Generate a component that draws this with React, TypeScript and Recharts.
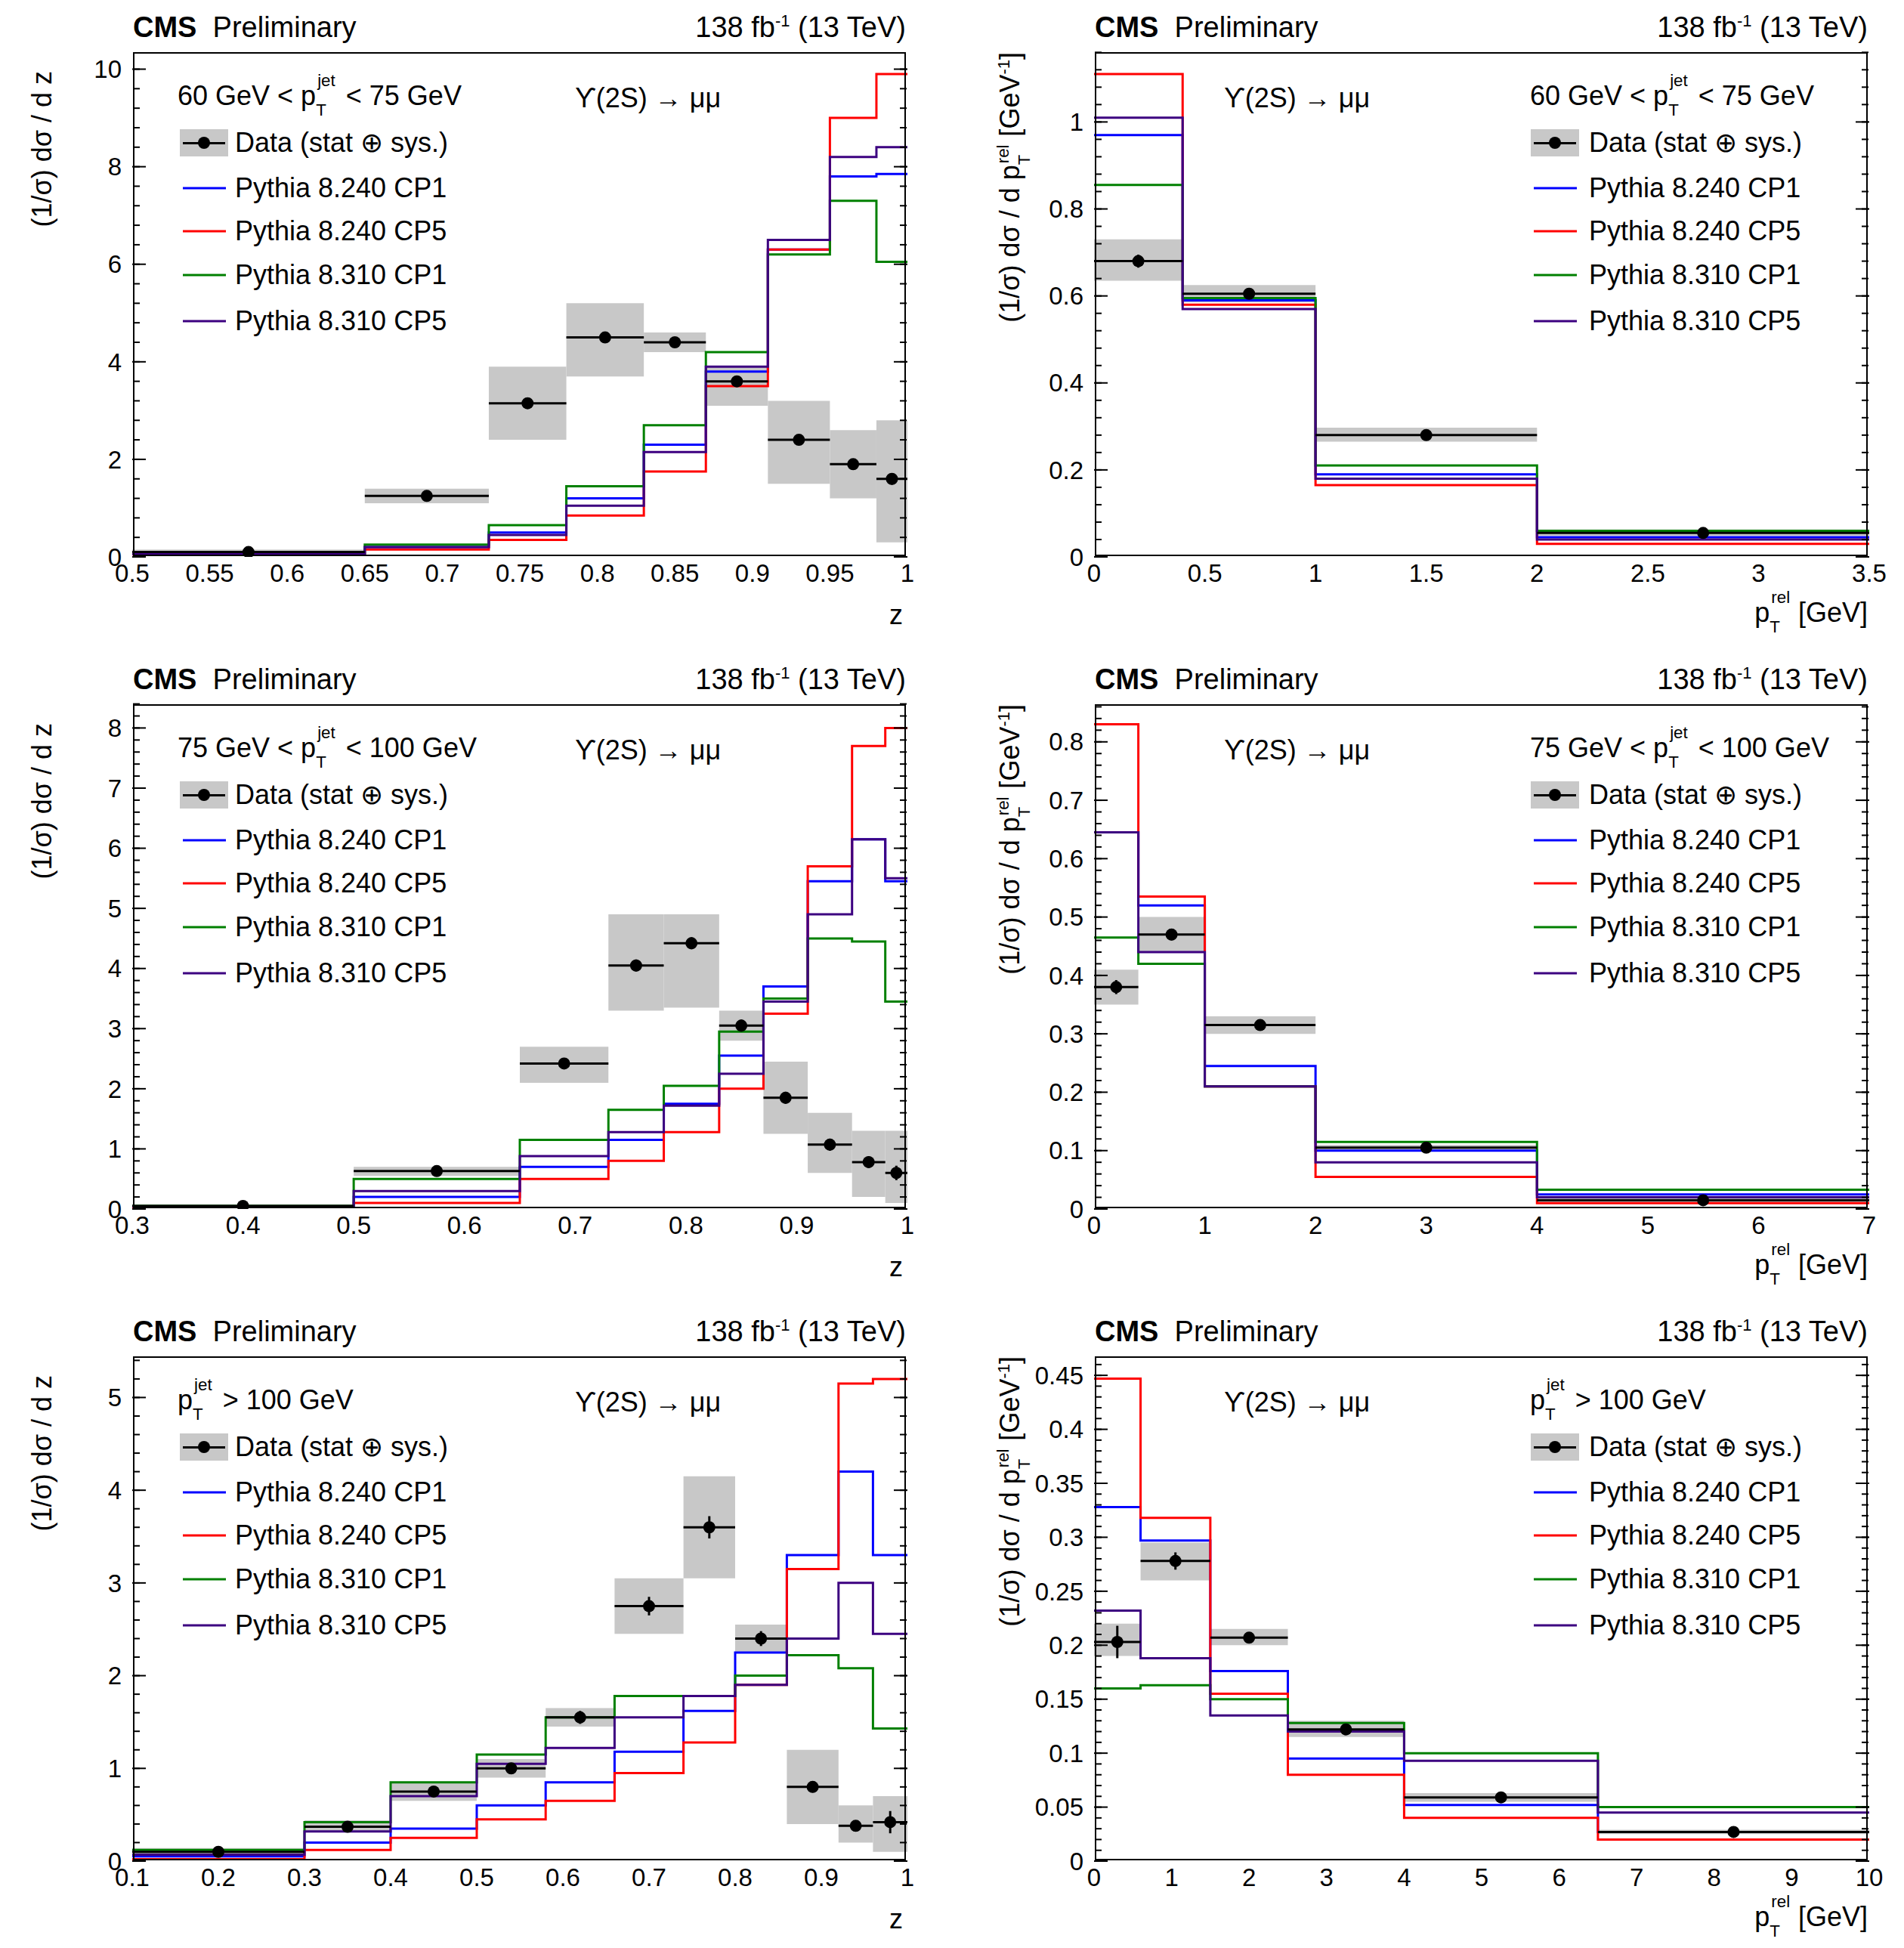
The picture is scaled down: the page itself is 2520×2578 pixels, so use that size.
import React from "react";
import { ComposedChart, Line, Scatter, ErrorBar, ReferenceArea, XAxis, YAxis } from "recharts";

// ---- panel 1: z, 60 < pT jet < 75 ----
const Z1_EDGES = [0.5, 0.65, 0.73, 0.78, 0.83, 0.87, 0.91, 0.95, 0.98, 1];
const Z1_CP1_240 = [0.07, 0.2, 0.5, 1.2, 2.3, 3.8, 6.3, 7.8, 7.85];
const Z1_CP5_240 = [0.05, 0.15, 0.35, 0.85, 1.75, 3.5, 6.3, 9.0, 9.9];
const Z1_CP1_310 = [0.08, 0.25, 0.65, 1.45, 2.7, 4.2, 6.2, 7.3, 6.05];
const Z1_CP5_310 = [0.06, 0.2, 0.45, 1.05, 2.15, 3.9, 6.5, 8.2, 8.4];
const Z1_DATA = [0.1, 1.25, 3.15, 4.5, 4.4, 3.6, 2.4, 1.9, 1.6];
const Z1_LO = [0.05, 1.1, 2.4, 3.7, 4.2, 3.1, 1.5, 1.2, 0.3];
const Z1_HI = [0.15, 1.4, 3.9, 5.2, 4.6, 3.9, 3.2, 2.6, 2.8];
const Z1_STAT = [0.02, 0.06, 0.08, 0.08, 0.08, 0.08, 0.08, 0.1, 0.12];

// ---- panel 2: pTrel, 60 < pT jet < 75 ----
const P1_EDGES = [0, 0.4, 1, 2, 3.5];
const P1_CP1_240 = [0.97, 0.59, 0.19, 0.045];
const P1_CP5_240 = [1.11, 0.58, 0.165, 0.03];
const P1_CP1_310 = [0.855, 0.595, 0.21, 0.06];
const P1_CP5_310 = [1.01, 0.57, 0.18, 0.04];
const P1_DATA = [0.68, 0.605, 0.28, 0.055];
const P1_LO = [0.635, 0.585, 0.265, 0.048];
const P1_HI = [0.73, 0.625, 0.297, 0.063];
const P1_STAT = [0.015, 0.008, 0.005, 0.003];

// ---- panel 3: z, 75 < pT jet < 100 ----
const Z2_EDGES = [0.3, 0.5, 0.65, 0.73, 0.78, 0.83, 0.87, 0.91, 0.95, 0.98, 1];
const Z2_CP1_240 = [0.04, 0.2, 0.7, 1.15, 1.75, 2.55, 3.7, 5.45, 6.15, 5.45];
const Z2_CP5_240 = [0.03, 0.1, 0.5, 0.8, 1.28, 2.0, 3.25, 5.7, 7.7, 8.0];
const Z2_CP1_310 = [0.05, 0.5, 1.15, 1.65, 2.05, 2.95, 3.5, 4.5, 4.45, 3.45];
const Z2_CP5_310 = [0.04, 0.3, 0.88, 1.28, 1.72, 2.25, 3.45, 4.9, 6.15, 5.5];
const Z2_DATA = [0.05, 0.63, 2.42, 4.05, 4.42, 3.05, 1.85, 1.07, 0.78, 0.6];
const Z2_LO = [0.02, 0.55, 2.1, 3.3, 3.35, 2.8, 1.25, 0.6, 0.2, 0.1];
const Z2_HI = [0.08, 0.7, 2.7, 4.9, 4.9, 3.3, 2.45, 1.6, 1.3, 1.3];
const Z2_STAT = [0.02, 0.04, 0.08, 0.1, 0.1, 0.1, 0.1, 0.1, 0.1, 0.12];

// ---- panel 4: pTrel, 75 < pT jet < 100 ----
const P2_EDGES = [0, 0.4, 1, 2, 4, 7];
const P2_CP1_240 = [0.645, 0.52, 0.245, 0.1, 0.025];
const P2_CP5_240 = [0.83, 0.535, 0.21, 0.055, 0.01];
const P2_CP1_310 = [0.465, 0.42, 0.21, 0.115, 0.033];
const P2_CP5_310 = [0.645, 0.44, 0.21, 0.08, 0.02];
const P2_DATA = [0.38, 0.47, 0.315, 0.105, 0.015];
const P2_LO = [0.35, 0.44, 0.3, 0.1, 0.012];
const P2_HI = [0.41, 0.5, 0.33, 0.11, 0.018];
const P2_STAT = [0.012, 0.01, 0.005, 0.002, 0.001];

// ---- panel 5: z, pT jet > 100 ----
const Z3_EDGES = [0.1, 0.3, 0.4, 0.5, 0.58, 0.66, 0.74, 0.8, 0.86, 0.92, 0.96, 1];
const Z3_CP1_240 = [0.05, 0.2, 0.35, 0.6, 0.85, 1.18, 1.62, 2.25, 3.3, 4.2, 3.3];
const Z3_CP5_240 = [0.02, 0.12, 0.25, 0.45, 0.65, 0.95, 1.28, 1.9, 3.15, 5.15, 5.2];
const Z3_CP1_310 = [0.12, 0.42, 0.85, 1.15, 1.55, 1.78, 1.78, 2.0, 2.22, 2.08, 1.43];
const Z3_CP5_310 = [0.07, 0.32, 0.7, 1.05, 1.22, 1.55, 1.78, 1.9, 2.4, 3.0, 2.45];
const Z3_DATA = [0.1, 0.37, 0.75, 1.0, 1.55, 2.75, 3.6, 2.4, 0.8, 0.38, 0.42];
const Z3_LO = [0.06, 0.32, 0.65, 0.9, 1.45, 2.45, 3.05, 2.25, 0.4, 0.2, 0.1];
const Z3_HI = [0.14, 0.44, 0.85, 1.1, 1.65, 3.05, 4.15, 2.55, 1.2, 0.6, 0.7];
const Z3_STAT = [0.02, 0.04, 0.05, 0.06, 0.07, 0.1, 0.12, 0.08, 0.06, 0.06, 0.12];

// ---- panel 6: pTrel, pT jet > 100 ----
const P3_EDGES = [0, 0.6, 1.5, 2.5, 4, 6.5, 10];
const P3_CP1_240 = [0.328, 0.297, 0.176, 0.095, 0.052, 0.027];
const P3_CP5_240 = [0.447, 0.318, 0.155, 0.08, 0.04, 0.02];
const P3_CP1_310 = [0.16, 0.163, 0.15, 0.128, 0.1, 0.05];
const P3_CP5_310 = [0.232, 0.188, 0.135, 0.12, 0.093, 0.045];
const P3_DATA = [0.203, 0.278, 0.207, 0.122, 0.059, 0.027];
const P3_LO = [0.19, 0.26, 0.2, 0.115, 0.055, 0.025];
const P3_HI = [0.22, 0.295, 0.215, 0.13, 0.063, 0.029];
const P3_STAT = [0.015, 0.008, 0.004, 0.004, 0.002, 0.001];

const LEGEND_NAMES = ["Pythia 8.240 CP1", "Pythia 8.240 CP5", "Pythia 8.310 CP1", "Pythia 8.310 CP5"];
const COLORS = ["#0000ff", "#ff0000", "#008000", "#3c0080"];
const GREY = "#c8c8c8";
const FONT = "'Liberation Sans', Arial, sans-serif";

const steps = (edges: number[], vals: number[]) =>
  vals.map((v, i) => ({ x: edges[i], y: v })).concat([{ x: edges[edges.length - 1], y: vals[vals.length - 1] }]);

const points = (edges: number[], vals: number[], stat: number[]) =>
  vals.map((v, i) => ({ x: (edges[i] + edges[i + 1]) / 2, y: v, ex: (edges[i + 1] - edges[i]) / 2, ey: stat[i] }));

const range = (a: number, b: number, s: number) => {
  const out: number[] = [];
  for (let i = 0; a + i * s <= b + 1e-9; i++) out.push(parseFloat((a + i * s).toFixed(4)));
  return out;
};
const fmt = (v: number) => String(parseFloat(v.toFixed(3)));

type Panel = {
  left: number; top: number; xd: [number, number]; yd: [number, number];
  xMaj: number; xMin: number; yMaj: number; yMin: number;
  edges: number[]; mc: number[][]; data: number[]; lo: number[]; hi: number[]; stat: number[];
  header: React.ReactNode; isZ: boolean;
};

const PW = 1023, PH = 667, ML = 150, MR = 50, MT = 20, MB = 60;
const COLX = [176, 1449];
const ROWY = [69, 932, 1795];

const ptjet = (
  <span>p<span style={{ position: "relative" }}><sup style={{ fontSize: "0.62em", position: "absolute", left: 2, top: -10 }}>jet</sup><sub style={{ fontSize: "0.62em", position: "relative", top: 6 }}>T</sub></span><span style={{ display: "inline-block", width: 26 }} /></span>
);
const ptrel = (
  <span>p<span style={{ position: "relative" }}><sup style={{ fontSize: "0.62em", position: "absolute", left: 2, top: -10 }}>rel</sup><sub style={{ fontSize: "0.62em", position: "relative", top: 6 }}>T</sub></span><span style={{ display: "inline-block", width: 24 }} /></span>
);

const HEADERS = [
  <span>60 GeV &lt; {ptjet}&lt; 75 GeV</span>,
  <span>75 GeV &lt; {ptjet}&lt; 100 GeV</span>,
  <span>{ptjet}&gt; 100 GeV</span>,
];

const PANELS: Panel[] = [
  { left: COLX[0], top: ROWY[0], xd: [0.5, 1], yd: [0, 10.38], xMaj: 0.05, xMin: 0.01, yMaj: 2, yMin: 0.4, edges: Z1_EDGES, mc: [Z1_CP1_240, Z1_CP5_240, Z1_CP1_310, Z1_CP5_310], data: Z1_DATA, lo: Z1_LO, hi: Z1_HI, stat: Z1_STAT, header: HEADERS[0], isZ: true },
  { left: COLX[1], top: ROWY[0], xd: [0, 3.5], yd: [0, 1.164], xMaj: 0.5, xMin: 0.1, yMaj: 0.2, yMin: 0.04, edges: P1_EDGES, mc: [P1_CP1_240, P1_CP5_240, P1_CP1_310, P1_CP5_310], data: P1_DATA, lo: P1_LO, hi: P1_HI, stat: P1_STAT, header: HEADERS[0], isZ: false },
  { left: COLX[0], top: ROWY[1], xd: [0.3, 1], yd: [0, 8.42], xMaj: 0.1, xMin: 0.02, yMaj: 1, yMin: 0.2, edges: Z2_EDGES, mc: [Z2_CP1_240, Z2_CP5_240, Z2_CP1_310, Z2_CP5_310], data: Z2_DATA, lo: Z2_LO, hi: Z2_HI, stat: Z2_STAT, header: HEADERS[1], isZ: true },
  { left: COLX[1], top: ROWY[1], xd: [0, 7], yd: [0, 0.867], xMaj: 1, xMin: 0.2, yMaj: 0.1, yMin: 0.02, edges: P2_EDGES, mc: [P2_CP1_240, P2_CP5_240, P2_CP1_310, P2_CP5_310], data: P2_DATA, lo: P2_LO, hi: P2_HI, stat: P2_STAT, header: HEADERS[1], isZ: false },
  { left: COLX[0], top: ROWY[2], xd: [0.1, 1], yd: [0, 5.46], xMaj: 0.1, xMin: 0.02, yMaj: 1, yMin: 0.2, edges: Z3_EDGES, mc: [Z3_CP1_240, Z3_CP5_240, Z3_CP1_310, Z3_CP5_310], data: Z3_DATA, lo: Z3_LO, hi: Z3_HI, stat: Z3_STAT, header: HEADERS[2], isZ: true },
  { left: COLX[1], top: ROWY[2], xd: [0, 10], yd: [0, 0.469], xMaj: 1, xMin: 0.2, yMaj: 0.05, yMin: 0.01, edges: P3_EDGES, mc: [P3_CP1_240, P3_CP5_240, P3_CP1_310, P3_CP5_310], data: P3_DATA, lo: P3_LO, hi: P3_HI, stat: P3_STAT, header: HEADERS[2], isZ: false },
];

const AX = { stroke: "#000", strokeWidth: 2 };
const NoLabel = () => <g />;

function Chart({ p }: { p: Panel }) {
  const xMaj = range(p.xd[0], p.xd[1], p.xMaj);
  const xMin = range(p.xd[0], p.xd[1], p.xMin);
  const yMaj = range(p.yd[0], p.yd[1], p.yMaj);
  const yMin = range(p.yd[0], p.yd[1], p.yMin);
  const pts = points(p.edges, p.data, p.stat);
  const tickAx = (ticks: number[], size: number) => ({
    type: "number" as const, ticks, tick: NoLabel, tickSize: size, mirror: true,
    axisLine: false, tickLine: AX, allowDataOverflow: true, interval: 0 as const,
  });
  return (
    <div style={{ position: "absolute", left: p.left - ML, top: p.top - MT }}>
      <ComposedChart width={PW + ML + MR} height={PH + MT + MB} margin={{ top: MT - 2, left: ML - 2, right: MR - 2, bottom: MB - 2 }}>
        <XAxis xAxisId="b1" domain={p.xd} height={1} {...tickAx(xMaj, 18)} />
        <XAxis xAxisId="b2" domain={p.xd} height={1} {...tickAx(xMin, 9)} />
        <XAxis xAxisId="m" dataKey="x" type="number" domain={p.xd} ticks={xMaj} interval={0} height={1} allowDataOverflow
          axisLine={false} tickLine={false} tickMargin={4} tickFormatter={fmt}
          tick={{ fill: "#000", fontSize: 33, fontFamily: FONT, dy: 0 }} />
        <XAxis xAxisId="t1" orientation="top" domain={p.xd} height={1} {...tickAx(xMaj, 18)} />
        <XAxis xAxisId="t2" orientation="top" domain={p.xd} height={1} {...tickAx(xMin, 9)} />
        <YAxis yAxisId="l1" domain={p.yd} width={1} {...tickAx(yMaj, 18)} />
        <YAxis yAxisId="l2" domain={p.yd} width={1} {...tickAx(yMin, 9)} />
        <YAxis yAxisId="m" type="number" domain={p.yd} ticks={yMaj} interval={0} width={1} allowDataOverflow
          axisLine={false} tickLine={false} tickMargin={8} tickFormatter={fmt}
          tick={{ fill: "#000", fontSize: 33, fontFamily: FONT }} />
        <YAxis yAxisId="r1" orientation="right" domain={p.yd} width={1} {...tickAx(yMaj, 18)} />
        <YAxis yAxisId="r2" orientation="right" domain={p.yd} width={1} {...tickAx(yMin, 9)} />
        {p.data.map((_, i) => (
          <ReferenceArea key={"box" + i} xAxisId="m" yAxisId="m" x1={p.edges[i]} x2={p.edges[i + 1]} y1={p.lo[i]} y2={p.hi[i]}
            fill={GREY} fillOpacity={1} stroke="none" ifOverflow="hidden" />
        ))}
        {p.mc.map((vals, k) => (
          <Line key={"mc" + k} xAxisId="m" yAxisId="m" data={steps(p.edges, vals)} dataKey="y" type="stepAfter"
            stroke={COLORS[k]} strokeWidth={3} dot={false} isAnimationActive={false} />
        ))}
        <Scatter xAxisId="m" yAxisId="m" data={pts} dataKey="y" isAnimationActive={false}
          shape={(s: any) => <circle cx={s.cx} cy={s.cy} r={8} fill="#000" />}>
          <ErrorBar dataKey="ex" direction="x" width={0} stroke="#000" strokeWidth={3} />
          <ErrorBar dataKey="ey" direction="y" width={0} stroke="#000" strokeWidth={3} />
        </Scatter>
      </ComposedChart>
    </div>
  );
}

function Texts({ p }: { p: Panel }) {
  const leg = p.isZ ? { hx: 59, lx: 66, tx: 135, ux: 585 } : { hx: 576, lx: 581, tx: 654, ux: 171 };
  const rowY = [120, 180, 237, 295, 356];
  const fs = 36;
  const abs = (x: number, y: number, extra: React.CSSProperties = {}): React.CSSProperties => ({
    position: "absolute", left: p.left + x, top: p.top + y, fontSize: fs, lineHeight: 1, whiteSpace: "nowrap", transform: "translateY(-50%)", ...extra,
  });
  return (
    <>
      <div style={{ position: "absolute", left: p.left, top: p.top, width: PW, height: PH, border: "2px solid #000", boxSizing: "border-box", pointerEvents: "none" }} />
      <div style={abs(0, -33, { fontSize: 38 })}><b>CMS</b>&nbsp; Preliminary</div>
      <div style={abs(0, -33, { fontSize: 38, left: undefined, right: 2520 - p.left - PW })}>
        138 fb<sup style={{ fontSize: 22, verticalAlign: 14 }}>-1</sup> (13 TeV)
      </div>
      <div style={abs(leg.hx, 61)}>{p.header}</div>
      <div style={abs(leg.ux, 61)}>ϒ(2S) → μμ</div>
      <div style={abs(leg.lx - 4, rowY[0], { width: 64, height: 36, background: GREY })}>
        <div style={{ position: "absolute", left: 4, right: 4, top: 17, height: 3, background: "#000" }} />
        <div style={{ position: "absolute", left: 24, top: 10, width: 16, height: 16, borderRadius: 8, background: "#000" }} />
      </div>
      <div style={abs(leg.tx, rowY[0])}>Data (stat ⊕ sys.)</div>
      {LEGEND_NAMES.map((n, k) => (
        <React.Fragment key={n}>
          <div style={abs(leg.lx, rowY[k + 1], { width: 57, height: 3, background: COLORS[k] })} />
          <div style={abs(leg.tx, rowY[k + 1])}>{n}</div>
        </React.Fragment>
      ))}
      {p.isZ ? (
        <div style={abs(PW - 22, PH + 78)}>z</div>
      ) : (
        <div style={abs(0, PH + 78, { left: undefined, right: 2520 - p.left - PW })}>{ptrel}[GeV]</div>
      )}
      <div style={{
        position: "absolute", left: p.left - 142, top: p.top + (p.isZ ? 25 : 0), width: 600,
        textAlign: "right", fontSize: fs, lineHeight: "44px", whiteSpace: "nowrap",
        transformOrigin: "top left", transform: "rotate(-90deg) translateX(-100%)",
      }}>
        {p.isZ ? <span>(1/σ) dσ / d z</span> : <span>(1/σ) dσ / d {ptrel}[GeV<sup style={{ fontSize: 22 }}>-1</sup>]</span>}
      </div>
    </>
  );
}

export default function App() {
  return (
    <div style={{ position: "absolute", left: 0, top: 0, width: 2520, height: 2578, background: "#fff", fontFamily: FONT, color: "#000" }}>
      {PANELS.map((p, i) => <Chart key={i} p={p} />)}
      {PANELS.map((p, i) => <Texts key={"t" + i} p={p} />)}
    </div>
  );
}
